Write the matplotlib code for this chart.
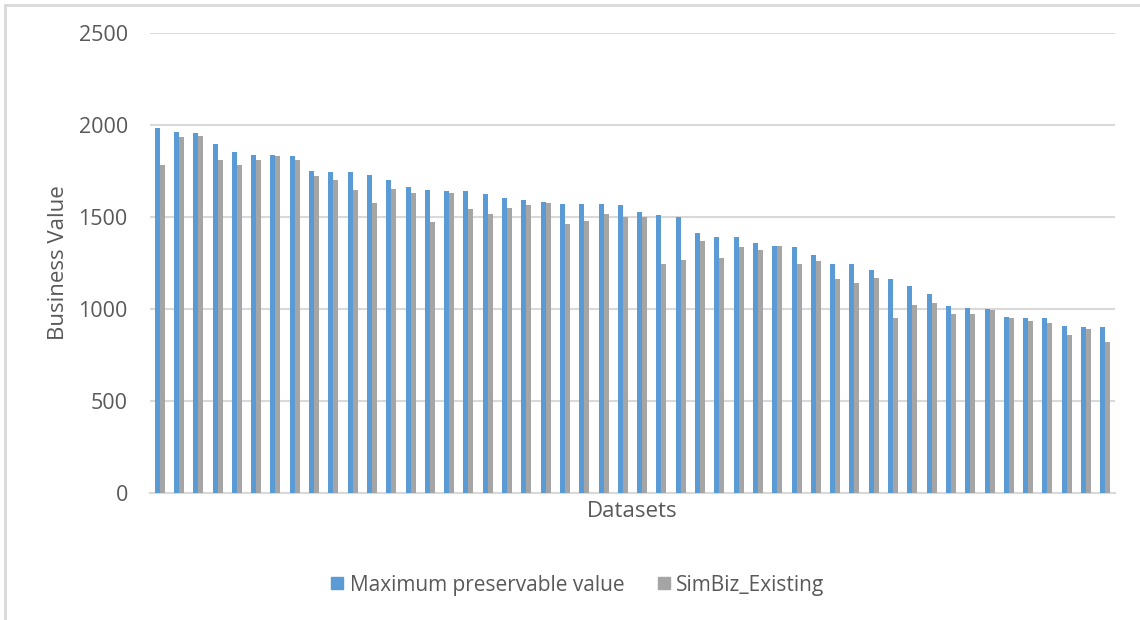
import numpy as np
import matplotlib.pyplot as plt
from matplotlib.lines import Line2D

plt.rcParams['font.family'] = ['Open Sans', 'DejaVu Sans']

# Business value per dataset, sorted by maximum preservable value
max_value = [1982, 1962, 1955, 1895, 1852, 1839, 1839, 1832, 1748, 1743,
             1743, 1728, 1701, 1661, 1647, 1640, 1640, 1625, 1605, 1591,
             1583, 1571, 1571, 1571, 1563, 1529, 1509, 1502, 1413, 1391,
             1391, 1357, 1342, 1337, 1295, 1246, 1246, 1212, 1163, 1123,
             1082, 1018, 1005, 998, 957, 949, 949, 908, 900, 900]
simbiz_existing = [1783, 1935, 1942, 1810, 1783, 1810, 1832, 1810, 1721, 1701,
                   1647, 1576, 1652, 1632, 1475, 1632, 1542, 1515, 1549, 1563,
                   1578, 1460, 1480, 1516, 1502, 1500, 1246, 1268, 1371, 1275,
                   1337, 1322, 1342, 1246, 1261, 1165, 1143, 1170, 949, 1020,
                   1033, 971, 971, 993, 949, 937, 922, 860, 890, 819]
series_names = ['Maximum preservable value', 'SimBiz_Existing']
colors = ['#5B9BD5', '#A5A5A5']

x = np.arange(len(max_value))
w = 0.26

fig = plt.figure(figsize=(11.4, 6.2), dpi=100)
ax = fig.add_axes([150 / 1140, 127 / 620, 965 / 1140, 460 / 620])

ax.bar(x - w / 2, max_value, width=w, color=colors[0], zorder=3)
ax.bar(x + w / 2, simbiz_existing, width=w, color=colors[1], zorder=3)

ax.set_xlim(-0.5, len(x) - 0.5)
ax.set_ylim(0, 2500)
ax.set_yticks(range(0, 2501, 500))
ax.set_xticks([])
ax.grid(axis='y', color='#D9D9D9', linewidth=1.5, zorder=0)
for s in ['top', 'right', 'left']:
    ax.spines[s].set_visible(False)
ax.spines['bottom'].set_color('#D9D9D9')
ax.spines['bottom'].set_linewidth(1.5)
ax.tick_params(axis='y', length=0, pad=16, labelsize=15.5, labelcolor='#595959')

ax.set_ylabel('Business Value', fontsize=16, color='#595959', labelpad=7)
ax.set_xlabel('Datasets', fontsize=16, color='#595959', labelpad=6)

handles = [Line2D([], [], marker='s', linestyle='none', markersize=8,
                  markerfacecolor=c, markeredgecolor=c) for c in colors]
fig.legend(handles, series_names, loc='center', bbox_to_anchor=(0.505, 35 / 620),
           ncol=2, frameon=False, fontsize=15, labelcolor='#595959',
           handletextpad=0.1, columnspacing=1.4, handlelength=1.0)

# Chart frame (top and left edges)
fig.add_artist(Line2D([5 / 1140, 5 / 1140], [0, 615 / 620], color='#D9D9D9',
                      linewidth=2, transform=fig.transFigure))
fig.add_artist(Line2D([5 / 1140, 1], [615 / 620, 615 / 620], color='#D9D9D9',
                      linewidth=2, transform=fig.transFigure))

fig.savefig('out.png', dpi=100)
